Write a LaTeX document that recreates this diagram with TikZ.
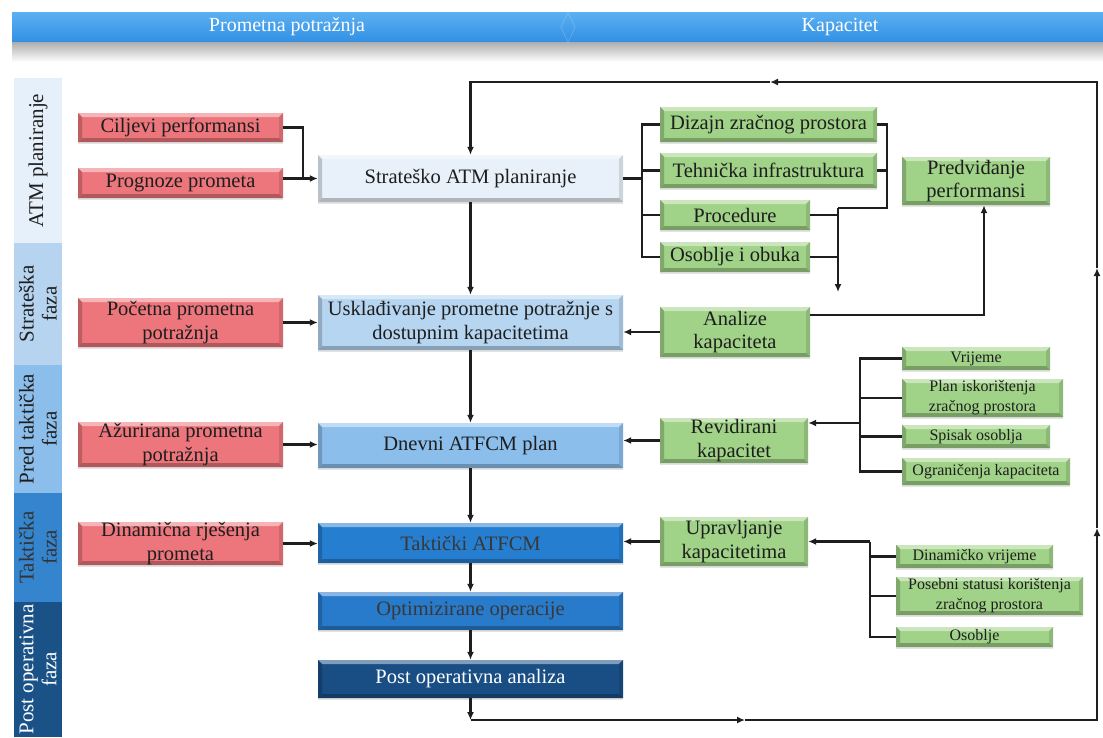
\documentclass[tikz,border=0pt]{standalone}
\usepackage{fontspec}
\setmainfont{Liberation Serif}
\usetikzlibrary{arrows.meta,calc,shadows}
\definecolor{redc}{RGB}{236,118,124}
\definecolor{grc}{RGB}{160,210,136}
\definecolor{c1}{RGB}{232,241,250}
\definecolor{c2}{RGB}{182,213,241}
\definecolor{c3}{RGB}{140,190,236}
\definecolor{c4}{RGB}{38,126,208}
\definecolor{c5}{RGB}{40,122,202}
\definecolor{c6}{RGB}{24,78,132}
\definecolor{sb1}{RGB}{230,240,250}
\definecolor{sb2}{RGB}{182,212,240}
\definecolor{sb3}{RGB}{140,190,235}
\definecolor{sb4}{RGB}{52,132,206}
\definecolor{sb5}{RGB}{26,82,136}
\definecolor{banL}{RGB}{92,176,242}
\definecolor{banD}{RGB}{50,144,228}
\definecolor{ink}{RGB}{30,30,30}
\begin{document}
\begin{tikzpicture}[x=1pt,y=-1pt,
  conn/.style={draw=ink, line width=2.1pt},
  arr/.style={conn, -{Latex[length=8pt,width=7pt]}},
  bev/.style={fill=#1, path picture={
    \coordinate (pA) at (path picture bounding box.north west);
    \coordinate (pB) at (path picture bounding box.north east);
    \coordinate (pC) at (path picture bounding box.south east);
    \coordinate (pD) at (path picture bounding box.south west);
    \fill[#1!55!white] (pA) -- (pB) -- ($(pB)+(-4pt,-4pt)$) -- ($(pA)+(4pt,-4pt)$) -- cycle;
    \fill[#1!80!black] (pA) -- ($(pA)+(4pt,-4pt)$) -- ($(pD)+(4pt,4pt)$) -- (pD) -- cycle;
    \fill[#1!88!black] (pB) -- ($(pB)+(-4pt,-4pt)$) -- ($(pC)+(-4pt,4pt)$) -- (pC) -- cycle;
    \fill[#1!75!black] (pD) -- ($(pD)+(4pt,4pt)$) -- ($(pC)+(-4pt,4pt)$) -- (pC) -- cycle;
  }},
  box/.style={inner sep=0pt, align=center, text=ink,
    font=\fontsize{20.5}{23.5}\selectfont,
    drop shadow={opacity=0.22, shadow xshift=0pt, shadow yshift=-2pt}},
  sbox/.style={box, font=\fontsize{16}{20}\selectfont},
  band/.style={inner sep=0pt, align=center, text=ink, minimum height=48,
    rotate=90, font=\fontsize{21}{23}\selectfont}
]
\useasboundingbox (0,0) rectangle (1103,737);
\fill[white] (0,0) rectangle (1103,737);

% banner
\shade[top color=banL, bottom color=banD] (12,12) rectangle (1103,42);
\shade[top color=black!32, bottom color=white] (12,42) rectangle (1103,62);
\draw[white, opacity=0.18, line width=0.8pt] (568,12) -- (575,27) -- (568,42) -- (561,27) -- cycle;
\node[text=white, font=\fontsize{20}{22}\selectfont] (hd) at (287,27) {Prometna potražnja};
\node[text=white, font=\fontsize{20}{22}\selectfont] (hk) at (840,27) {Kapacitet};

% sidebar
\node[band, fill=sb1, minimum width=165] (b1) at (38,160.5) {ATM planiranje};
\node[band, fill=sb2, minimum width=122] (b2) at (38,304) {Strateška\\faza};
\node[band, fill=sb3, minimum width=128] (b3) at (38,429) {Pred taktička\\faza};
\node[band, fill=sb4, minimum width=109, text=black!80] (b4) at (38,547.5) {Taktička\\faza};
\node[band, fill=sb5, minimum width=135, text=white] (b5) at (38,669.5) {Post operativna\\faza};

% red boxes
\node[box, bev=redc, minimum width=205, minimum height=29] (cilj) at (180.5,127.5) {Ciljevi performansi};
\node[box, bev=redc, minimum width=205, minimum height=30] (prog) at (180.5,183) {Prognoze prometa};
\node[box, bev=redc, minimum width=205, minimum height=49] (poc) at (180.5,322.5) {Početna prometna\\potražnja};
\node[box, bev=redc, minimum width=205, minimum height=45] (azur) at (180.5,444.5) {Ažurirana prometna\\potražnja};
\node[box, bev=redc, minimum width=205, minimum height=43] (dina) at (180.5,543.5) {Dinamična rješenja\\prometa};

% central column
\node[box, bev=c1, minimum width=305, minimum height=47] (strat) at (470.5,178.5) {Strateško ATM planiranje};
\node[box, bev=c2, minimum width=305, minimum height=55] (uskl) at (470.5,322.5) {Usklađivanje prometne potražnje s\\dostupnim kapacitetima};
\node[box, bev=c3, minimum width=305, minimum height=45] (dnev) at (470.5,445.5) {Dnevni ATFCM plan};
\node[box, bev=c4, minimum width=305, minimum height=40, text=black!78] (takt) at (470.5,543) {Taktički ATFCM};
\node[box, bev=c5, minimum width=305, minimum height=38, text=black!78] (opti) at (470.5,611) {Optimizirane operacije};
\node[box, bev=c6, minimum width=305, minimum height=38, text=white] (posta) at (470.5,679) {Post operativna analiza};

% green boxes
\node[box, bev=grc, minimum width=217, minimum height=35] (diz) at (768.5,124.5) {Dizajn zračnog prostora};
\node[box, bev=grc, minimum width=217, minimum height=35] (teh) at (768.5,170.5) {Tehnička infrastruktura};
\node[box, bev=grc, minimum width=150, minimum height=30] (proc) at (735,215) {Procedure};
\node[box, bev=grc, minimum width=150, minimum height=30] (osob) at (735,257) {Osoblje i obuka};
\node[box, bev=grc, minimum width=148, minimum height=48] (pred) at (976,181) {Predviđanje\\performansi};
\node[box, bev=grc, minimum width=150, minimum height=50] (anal) at (735,332) {Analize\\kapaciteta};
\node[box, bev=grc, minimum width=148, minimum height=45] (revi) at (734,440.5) {Revidirani\\kapacitet};
\node[box, bev=grc, minimum width=148, minimum height=49] (uprav) at (734,541.5) {Upravljanje\\kapacitetima};

% small green boxes
\node[sbox, bev=grc, minimum width=148, minimum height=23] (vrij) at (976,358.5) {Vrijeme};
\node[sbox, bev=grc, minimum width=161, minimum height=38] (plan) at (982.5,398) {Plan iskorištenja\\zračnog prostora};
\node[sbox, bev=grc, minimum width=148, minimum height=23] (spis) at (976,436.5) {Spisak osoblja};
\node[sbox, bev=grc, minimum width=168, minimum height=27] (ogra) at (986,471.5) {Ograničenja kapaciteta};
\node[sbox, bev=grc, minimum width=157, minimum height=23] (dvri) at (974.5,556.5) {Dinamičko vrijeme};
\node[sbox, bev=grc, minimum width=187, minimum height=38] (poseb) at (989.5,596) {Posebni statusi korištenja\\zračnog prostora};
\node[sbox, bev=grc, minimum width=157, minimum height=20] (osob2) at (974.5,637) {Osoblje};

% --- connectors ---
\coordinate (j1) at (303,0);
\draw[conn] (cilj.east) -| (j1 |- strat.west);
\draw[arr] (prog.east |- strat.west) -- (strat.west);
\draw[arr] (poc.east) -- (uskl.west |- poc.east);
\draw[arr] (azur.east) -- (dnev.west |- azur.east);
\draw[arr] (dina.east) -- (takt.west |- dina.east);

\foreach \a/\b in {strat/uskl, uskl/dnev, dnev/takt, takt/opti, opti/posta}
  \draw[arr] (\a.south) -- (\b.north);

% feedback loop
\coordinate (lb) at (470.5,720);
\coordinate (lr) at (1097,720);
\coordinate (tr) at (1097,82);
\coordinate (tl) at (470.5,82);
\coordinate (m1) at (745,720);
\coordinate (m2) at (1097,528);
\coordinate (m3) at (1097,268);
\coordinate (m4) at (770,82);
\draw[arr] (posta.south) -- (lb);
\draw[arr] (lb) -- (m1);
\draw[arr] (m1) -- (lr) -- (m2);
\draw[arr] (m2) -- (m3);
\draw[arr] (m3) -- (tr) -- (m4);
\draw[arr] (m4) -- (tl) -- (strat.north);

% strategic bus (left)
\coordinate (bL) at (642,0);
\draw[conn] (strat.east) -- (bL |- strat.east);
\draw[conn] (diz.west) -- (bL |- diz.west) -- (bL |- osob.west) -- (osob.west);
\draw[conn] (teh.west) -- (bL |- teh.west);
\draw[conn] (proc.west) -- (bL |- proc.west);

% strategic bus (right)
\coordinate (bR) at (887,208);
\coordinate (bD) at (838,208);
\coordinate (dn) at (838,292);
\draw[conn] (diz.east) -| (bR) -- (bD);
\draw[conn] (teh.east) -- (bR |- teh.east);
\draw[conn] (proc.east) -- (bD |- proc.east);
\draw[conn] (osob.east) -- (bD |- osob.east);
\draw[arr] (bD) -- (dn);

% capacity analysis
\draw[arr] ([yshift=17pt]anal.east) -| ([xshift=8pt]pred.south);
\draw[arr] (anal.west) -- (uskl.east |- anal.west);
\draw[arr] (revi.west) -- (dnev.east |- revi.west);
\draw[arr] (uprav.west) -- (takt.east |- uprav.west);

% pre-tactical inputs
\coordinate (sA) at (860,0);
\coordinate (r1) at (860,423);
\draw[conn] (vrij.west) -- (sA |- vrij.west) -- (sA |- ogra.west) -- (ogra.west);
\draw[conn] (plan.west) -- (sA |- plan.west);
\draw[conn] (spis.west) -- (sA |- spis.west);
\draw[arr] (r1) -- (revi.east |- r1);

% tactical inputs
\coordinate (sB) at (870,541.5);
\draw[conn] (sB) -- (sB |- osob2.west) -- (osob2.west);
\draw[conn] (dvri.west) -- (sB |- dvri.west);
\draw[conn] (poseb.west) -- (sB |- poseb.west);
\draw[arr] (sB) -- (uprav.east |- sB);
\end{tikzpicture}
\end{document}
